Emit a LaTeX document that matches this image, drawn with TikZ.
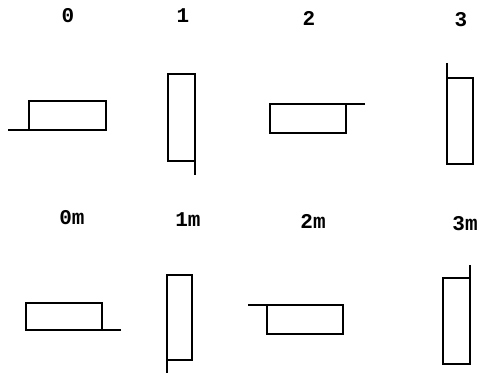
\documentclass[tikz,border=0pt]{standalone}
\usepackage{fontspec}
\setmainfont{Liberation Mono}
\tikzset{
  shapeline/.style={line width=1.8pt, line join=miter, line cap=butt},
  lbl/.style={font=\fontsize{21}{24}\selectfont\bfseries, inner sep=0pt}
}
\begin{document}
\begin{tikzpicture}[x=1pt,y=-1pt]
\useasboundingbox (0,0) rectangle (480,374);
% labels
\node[lbl] (l0) at (68,16) {0};
\node[lbl] (l1) at (183,16) {1};
\node[lbl] (l2) at (309,18) {2};
\node[lbl] (l3) at (461,20) {3};
\node[lbl] (l0m) at (72,218) {0m};
\node[lbl] (l1m) at (188,220) {1m};
\node[lbl] (l2m) at (313,221) {2m};
\node[lbl] (l3m) at (465,224) {3m};
% 0
\draw[shapeline] (8,130) -- (106,130) -- (106,101) -- (29,101) -- (29,130);
% 1
\draw[shapeline] (195,175) -- (195,74) -- (168,74) -- (168,161) -- (195,161);
% 2
\draw[shapeline] (365,104) -- (270,104) -- (270,133) -- (346,133) -- (346,104);
% 3
\draw[shapeline] (447,63) -- (447,164) -- (473,164) -- (473,78) -- (447,78);
% 0m
\draw[shapeline] (121,330) -- (26,330) -- (26,303) -- (102,303) -- (102,330);
% 1m
\draw[shapeline] (167,373) -- (167,275) -- (192,275) -- (192,360) -- (167,360);
% 2m
\draw[shapeline] (248,305) -- (343,305) -- (343,334) -- (267,334) -- (267,305);
% 3m
\draw[shapeline] (470,265) -- (470,364) -- (443,364) -- (443,278) -- (470,278);
\end{tikzpicture}
\end{document}
